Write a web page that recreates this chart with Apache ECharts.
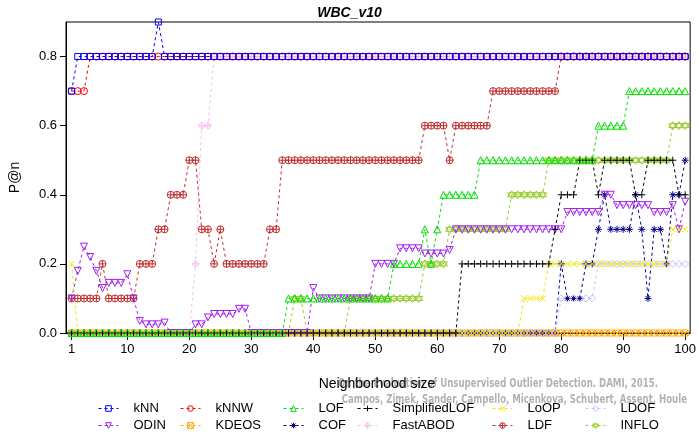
<!DOCTYPE html>
<html>
<head>
<meta charset="utf-8">
<script src="https://cdn.jsdelivr.net/npm/echarts@6/dist/echarts.min.js"></script>
<style>html,body{margin:0;padding:0;background:#fff}#c{width:699px;height:434px}</style>
</head>
<body>
<div id="c"></div>
<script>
// Neighborhood sizes (x)
const ks = Array.from({length: 100}, (_, i) => i + 1);
const xTicks = [1, 10, 20, 30, 40, 50, 60, 70, 80, 90, 100];
const yTicks = [0, 0.2, 0.4, 0.6, 0.8];

const kNN = [
0.7,0.8,0.8,0.8,0.8,0.8,0.8,0.8,0.8,0.8,
0.8,0.8,0.8,0.8,0.9,0.8,0.8,0.8,0.8,0.8,
0.8,0.8,0.8,0.8,0.8,0.8,0.8,0.8,0.8,0.8,
0.8,0.8,0.8,0.8,0.8,0.8,0.8,0.8,0.8,0.8,
0.8,0.8,0.8,0.8,0.8,0.8,0.8,0.8,0.8,0.8,
0.8,0.8,0.8,0.8,0.8,0.8,0.8,0.8,0.8,0.8,
0.8,0.8,0.8,0.8,0.8,0.8,0.8,0.8,0.8,0.8,
0.8,0.8,0.8,0.8,0.8,0.8,0.8,0.8,0.8,0.8,
0.8,0.8,0.8,0.8,0.8,0.8,0.8,0.8,0.8,0.8,
0.8,0.8,0.8,0.8,0.8,0.8,0.8,0.8,0.8,0.8];
const kNNW = [
0.7,0.7,0.7,0.8,0.8,0.8,0.8,0.8,0.8,0.8,
0.8,0.8,0.8,0.8,0.8,0.8,0.8,0.8,0.8,0.8,
0.8,0.8,0.8,0.8,0.8,0.8,0.8,0.8,0.8,0.8,
0.8,0.8,0.8,0.8,0.8,0.8,0.8,0.8,0.8,0.8,
0.8,0.8,0.8,0.8,0.8,0.8,0.8,0.8,0.8,0.8,
0.8,0.8,0.8,0.8,0.8,0.8,0.8,0.8,0.8,0.8,
0.8,0.8,0.8,0.8,0.8,0.8,0.8,0.8,0.8,0.8,
0.8,0.8,0.8,0.8,0.8,0.8,0.8,0.8,0.8,0.8,
0.8,0.8,0.8,0.8,0.8,0.8,0.8,0.8,0.8,0.8,
0.8,0.8,0.8,0.8,0.8,0.8,0.8,0.8,0.8,0.8];
const LOF = [
0,0,0,0,0,0,0,0,0,0,
0,0,0,0,0,0,0,0,0,0,
0,0,0,0,0,0,0,0,0,0,
0,0,0,0,0,0.1,0.1,0.1,0.1,0.1,
0.1,0.1,0.1,0.1,0.1,0.1,0.1,0.1,0.1,0.1,
0.1,0.1,0.2,0.2,0.2,0.2,0.2,0.3,0.2,0.3,
0.4,0.4,0.4,0.4,0.4,0.4,0.5,0.5,0.5,0.5,
0.5,0.5,0.5,0.5,0.5,0.5,0.5,0.5,0.5,0.5,
0.5,0.5,0.5,0.5,0.5,0.6,0.6,0.6,0.6,0.6,
0.7,0.7,0.7,0.7,0.7,0.7,0.7,0.7,0.7,0.7];
const SimplifiedLOF = [
0,0,0,0,0,0,0,0,0,0,
0,0,0,0,0,0,0,0,0,0,
0,0,0,0,0,0,0,0,0,0,
0,0,0,0,0,0,0,0,0,0,
0,0,0,0,0,0,0,0,0,0,
0,0,0,0,0,0,0,0,0,0,
0,0,0,0.2,0.2,0.2,0.2,0.2,0.2,0.2,
0.2,0.2,0.2,0.2,0.2,0.2,0.2,0.2,0.3,0.4,
0.4,0.4,0.5,0.5,0.5,0.4,0.5,0.5,0.5,0.5,
0.5,0.4,0.4,0.5,0.5,0.5,0.5,0.5,0.4,0.4];
const LoOP = [
0.2,0,0,0,0,0,0,0,0,0,
0,0,0,0,0,0,0,0,0,0,
0,0,0,0,0,0,0,0,0,0,
0,0,0,0,0,0,0,0,0,0,
0,0,0,0,0,0,0,0,0,0,
0,0,0,0,0,0,0,0,0,0,
0,0,0,0,0,0,0,0,0,0,
0,0,0,0.1,0.1,0.1,0.1,0.2,0.2,0.2,
0.2,0.2,0.2,0.2,0.2,0.2,0.2,0.2,0.2,0.2,
0.2,0.2,0.2,0.2,0.2,0.2,0.2,0.3,0.3,0.3];
const LDOF = [
0,0,0,0,0,0,0,0,0,0,
0,0,0,0,0,0,0,0,0,0,
0,0,0,0,0,0,0,0,0,0,
0,0,0,0,0,0,0,0,0,0,
0,0,0,0,0,0,0,0,0,0,
0,0,0,0,0,0,0,0,0,0,
0,0,0,0,0,0,0,0,0,0,
0,0,0,0,0,0,0,0,0,0.1,
0.1,0.1,0.1,0.1,0.1,0.2,0.2,0.2,0.2,0.2,
0.2,0.2,0.2,0.2,0.2,0.2,0.2,0.2,0.2,0.2];
const ODIN = [
0.1,0.18,0.25,0.22,0.18,0.13,0.145,0.145,0.145,0.17,
0.1,0.035,0.025,0.025,0.025,0.03,0,0,0,0,
0.025,0.025,0.045,0.055,0.055,0.055,0.055,0.07,0.07,0,
0,0,0,0,0,0,0,0,0,0.13,
0.1,0.1,0.1,0.1,0.1,0.1,0.1,0.1,0.1,0.2,
0.2,0.2,0.2,0.245,0.245,0.245,0.245,0.23,0.23,0.23,
0.23,0.24,0.3,0.3,0.3,0.3,0.3,0.3,0.3,0.3,
0.3,0.3,0.3,0.3,0.3,0.3,0.3,0.3,0.3,0.3,
0.35,0.35,0.35,0.35,0.35,0.35,0.4,0.4,0.37,0.37,
0.37,0.37,0.37,0.37,0.35,0.35,0.35,0.37,0.3,0.38];
const KDEOS = [
0,0,0,0,0,0,0,0,0,0,
0,0,0,0,0,0,0,0,0,0,
0,0,0,0,0,0,0,0,0,0,
0,0,0,0,0,0,0,0,0,0,
0,0,0,0,0,0,0,0,0,0,
0,0,0,0,0,0,0,0,0,0,
0,0,0,0,0,0,0,0,0,0,
0,0,0,0,0,0,0,0,0,0,
0,0,0,0,0,0,0,0,0,0,
0,0,0,0,0,0,0,0,0,0];
const COF = [
0,0,0,0,0,0,0,0,0,0,
0,0,0,0,0,0,0,0,0,0,
0,0,0,0,0,0,0,0,0,0,
0,0,0,0,0,0,0,0,0,0,
0,0,0,0,0,0,0,0,0,0,
0,0,0,0,0,0,0,0,0,0,
0,0,0,0,0,0,0,0,0,0,
0,0,0,0,0,0,0,0,0,0.2,
0.1,0.1,0.1,0.2,0.2,0.3,0.4,0.3,0.3,0.3,
0.3,0.4,0.3,0.1,0.3,0.3,0.2,0.4,0.4,0.5];
const FastABOD = [
0,0,0,0,0,0,0,0,0,0,
0,0,0,0,0,0,0,0,0,0,
0.2,0.6,0.6,0.8,0.8,0.8,0.8,0.8,0.8,0.8,
0.8,0.8,0.8,0.8,0.8,0.8,0.8,0.8,0.8,0.8,
0.8,0.8,0.8,0.8,0.8,0.8,0.8,0.8,0.8,0.8,
0.8,0.8,0.8,0.8,0.8,0.8,0.8,0.8,0.8,0.8,
0.8,0.8,0.8,0.8,0.8,0.8,0.8,0.8,0.8,0.8,
0.8,0.8,0.8,0.8,0.8,0.8,0.8,0.8,0.8,0.8,
0.8,0.8,0.8,0.8,0.8,0.8,0.8,0.8,0.8,0.8,
0.8,0.8,0.8,0.8,0.8,0.8,0.8,0.8,0.8,0.8];
const LDF = [
0.1,0.1,0.1,0.1,0.1,0.2,0.1,0.1,0.1,0.1,
0.1,0.2,0.2,0.2,0.3,0.3,0.4,0.4,0.4,0.5,
0.5,0.3,0.3,0.2,0.3,0.2,0.2,0.2,0.2,0.2,
0.2,0.2,0.3,0.3,0.5,0.5,0.5,0.5,0.5,0.5,
0.5,0.5,0.5,0.5,0.5,0.5,0.5,0.5,0.5,0.5,
0.5,0.5,0.5,0.5,0.5,0.5,0.5,0.6,0.6,0.6,
0.6,0.5,0.6,0.6,0.6,0.6,0.6,0.6,0.7,0.7,
0.7,0.7,0.7,0.7,0.7,0.7,0.7,0.7,0.7,0.8,
0.8,0.8,0.8,0.8,0.8,0.8,0.8,0.8,0.8,0.8,
0.8,0.8,0.8,0.8,0.8,0.8,0.8,0.8,0.8,0.8];
const INFLO = [
0,0,0,0,0,0,0,0,0,0,
0,0,0,0,0,0,0,0,0,0,
0,0,0,0,0,0,0,0,0,0,
0,0,0,0,0,0,0.1,0.1,0,0,
0,0,0,0,0,0.1,0.1,0.1,0.1,0.1,
0.1,0.1,0.1,0.1,0.1,0.1,0.1,0.2,0.2,0.2,
0.2,0.3,0.3,0.3,0.3,0.3,0.3,0.3,0.3,0.3,
0.3,0.4,0.4,0.4,0.4,0.4,0.4,0.5,0.5,0.5,
0.5,0.5,0.5,0.5,0.5,0.5,0.5,0.5,0.5,0.5,
0.5,0.5,0.5,0.5,0.5,0.5,0.5,0.6,0.6,0.6];

const seriesData = {kNN, kNNW, LOF, SimplifiedLOF, LoOP, LDOF, ODIN, KDEOS, COF, FastABOD, LDF, INFLO};

const colors = {
  kNN:'#0000FF', kNNW:'#FF0000', LOF:'#00E000', SimplifiedLOF:'#000000',
  LoOP:'#EEE600', LDOF:'#C4C4F4', ODIN:'#A020F0', KDEOS:'#FFA500',
  COF:'#00008B', FastABOD:'#F6BEEA', LDF:'#C03030', INFLO:'#9ACD32'
};
const symbols = {
  kNN:'rect',
  kNNW:'path://M0,5A5,5 0 1,1 10,5A5,5 0 1,1 0,5Z',
  LOF:'path://M5,0L10,8.66L0,8.66Z',
  SimplifiedLOF:'path://M0,5L10,5M5,0L5,10',
  LoOP:'path://M0,0L10,10M10,0L0,10',
  LDOF:'path://M5,0L10,5L5,10L0,5Z',
  ODIN:'path://M0,0L10,0L5,8.66Z',
  KDEOS:'path://M0,0L10,0L10,10L0,10ZM0,0L10,10M10,0L0,10',
  COF:'path://M0,5L10,5M5,0L5,10M1.5,1.5L8.5,8.5M8.5,1.5L1.5,8.5',
  FastABOD:'path://M5,0L10,5L5,10L0,5ZM5,0L5,10M0,5L10,5',
  LDF:'path://M0,5A5,5 0 1,1 10,5A5,5 0 1,1 0,5ZM5,0L5,10M0,5L10,5',
  INFLO:'path://M5,0L9.33,7.5L0.67,7.5ZM5,10L0.67,2.5L9.33,2.5Z'
};
const sizes = {kNN:6, kNNW:7, LOF:7, SimplifiedLOF:7, LoOP:6, LDOF:7, ODIN:7, KDEOS:6, COF:7, FastABOD:7, LDF:7, INFLO:8};

// drawing order: first = bottom
const drawOrder = ['INFLO','LDF','FastABOD','COF','KDEOS','ODIN','LDOF','LoOP','SimplifiedLOF','LOF','kNNW','kNN'];

const series = drawOrder.map(name => ({
  name, type:'line', silent:true, animation:false,
  data: ks.map((k,i) => [k, seriesData[name][i]]),
  symbol: symbols[name], symbolSize: sizes[name], showSymbol:true, showAllSymbol:true,
  itemStyle:{color:'rgba(255,255,255,0)', borderColor:colors[name], borderWidth:1},
  lineStyle:{color:colors[name], width:1, type:[3,3]},
  emphasis:{disabled:true}
}));

const FONT = 'Liberation Sans, Arial, sans-serif';
const legendRows = [
  ['kNN','kNNW','LOF','SimplifiedLOF','LoOP','LDOF'],
  ['ODIN','KDEOS','COF','FastABOD','LDF','INFLO']
];
const legendX = [98, 180, 283, 357, 492, 585];
const legendY = [402, 419];
const legends = [];
legendRows.forEach((row, r) => row.forEach((name, c) => {
  legends.push({
    data:[name], left:legendX[c], top:legendY[r], padding:0,
    itemWidth:20, itemHeight:7, selectedMode:false,
    itemStyle:{borderWidth:1},
    lineStyle:{width:1},
    textStyle:{fontSize:13, fontFamily:FONT, color:'#000', padding:[0,0,0,10]}
  });
}));

const grayFont = 'bold 11.5px "Liberation Sans Narrow", "DejaVu Sans Condensed", sans-serif';
const chart = echarts.init(document.getElementById('c'), null, {renderer:'canvas'});
chart.setOption({
  animation:false,
  backgroundColor:'#fff',
  title:{text:'WBC_v10', left:'center', top:1,
    textStyle:{fontSize:14, fontWeight:'bold', fontStyle:'italic', fontFamily:FONT, color:'#000'}},
  grid:{left:62, right:7, top:22, bottom:101, show:true, borderColor:'#000', borderWidth:1, backgroundColor:'rgba(0,0,0,0)'},
  legend: legends,
  xAxis:{type:'value', min:0.1, max:100.8,
    axisLine:{show:true, onZero:false, lineStyle:{color:'#000', width:1}},
    axisTick:{show:true, length:7, customValues:xTicks, lineStyle:{color:'#000'}},
    axisLabel:{customValues:xTicks, fontSize:13, fontFamily:FONT, color:'#000', margin:10},
    splitLine:{show:false}},
  yAxis:{type:'value', min:0, max:0.9,
    name:'P@n', nameLocation:'middle', nameGap:44, nameRotate:90,
    nameTextStyle:{fontSize:14, fontFamily:FONT, color:'#000'},
    axisLine:{show:true, lineStyle:{color:'#000', width:1}},
    axisTick:{show:true, length:6, customValues:yTicks, lineStyle:{color:'#000'}},
    axisLabel:{customValues:yTicks, fontSize:13, fontFamily:FONT, color:'#000', margin:9,
      formatter: v => Number(v).toFixed(1)},
    splitLine:{show:false}},
  graphic:[
    {type:'text', z:1, x:658, y:384, scaleX:0.83, scaleY:1,
      style:{text:'On the Evaluation of Unsupervised Outlier Detection. DAMI, 2015.', fill:'#B2B2B2',
        font:grayFont, align:'right', verticalAlign:'middle'}},
    {type:'text', z:1, x:687, y:400, scaleX:0.83, scaleY:1,
      style:{text:'Campos, Zimek, Sander, Campello, Micenkova, Schubert, Assent, Houle', fill:'#B2B2B2',
        font:grayFont, align:'right', verticalAlign:'middle'}},
    {type:'text', z:10, x:377, y:384,
      style:{text:'Neighborhood size', fill:'#000', font:'14px "Liberation Sans", Arial, sans-serif', align:'center', verticalAlign:'middle'}}
  ],
  series
});
</script>
</body>
</html>
